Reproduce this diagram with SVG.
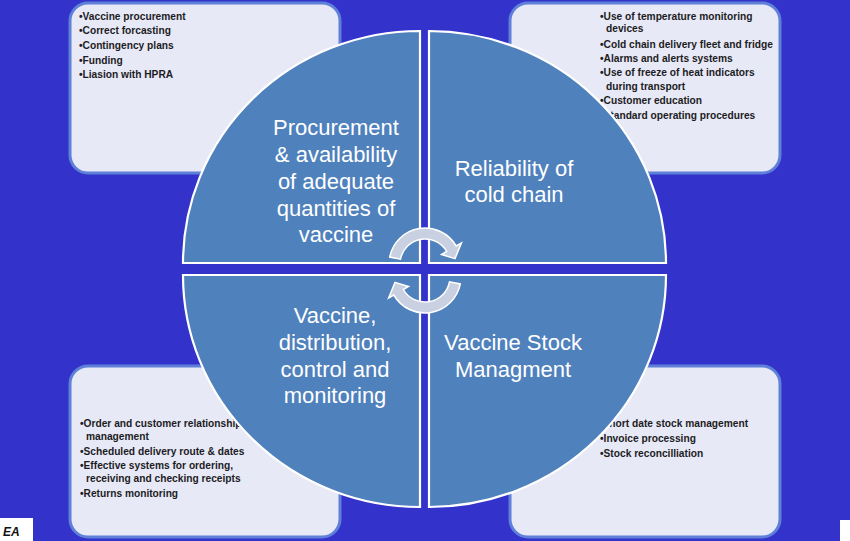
<svg xmlns="http://www.w3.org/2000/svg" width="850" height="541" viewBox="0 0 850 541">
<style>
.box{fill:#e8e9f6;stroke:#5f80d8;stroke-width:3}
.bt{font-family:"Liberation Sans",Arial,sans-serif;font-weight:bold;font-size:10.2px;fill:#1c1c24}
.q{fill:#4f81bd;stroke:#ffffff;stroke-width:2.2}
.lab{font-family:"Liberation Sans",Arial,sans-serif;font-size:22px;fill:#ffffff;text-anchor:middle}
.arr{fill:#c8d0e2;stroke:#ffffff;stroke-width:1.5}
</style>
<rect width="850" height="541" fill="#3333cc"/>
<g id="box-tl">
<rect class="box" x="70" y="3" width="270" height="170" rx="18"/>
<text class="bt" x="79" y="20">•Vaccine procurement</text>
<text class="bt" x="79" y="34">•Correct forcasting</text>
<text class="bt" x="79" y="49">•Contingency plans</text>
<text class="bt" x="79" y="64">•Funding</text>
<text class="bt" x="79" y="78">•Liasion with HPRA</text>
</g>
<g id="box-tr">
<rect class="box" x="510" y="3" width="270" height="170" rx="18"/>
<text class="bt" x="600" y="20">•Use of temperature monitoring</text>
<text class="bt" x="606" y="32">devices</text>
<text class="bt" x="600" y="48">•Cold chain delivery fleet and fridge</text>
<text class="bt" x="600" y="62">•Alarms and alerts systems</text>
<text class="bt" x="600" y="76">•Use of freeze of heat indicators</text>
<text class="bt" x="606" y="90">during transport</text>
<text class="bt" x="600" y="104">•Customer education</text>
<text class="bt" x="600" y="119">•Standard operating procedures</text>
</g>
<g id="box-bl">
<rect class="box" x="70" y="366" width="270" height="171" rx="18"/>
<text class="bt" x="80" y="427">•Order and customer relationship</text>
<text class="bt" x="86" y="440">management</text>
<text class="bt" x="80" y="455">•Scheduled delivery route &amp; dates</text>
<text class="bt" x="80" y="469">•Effective systems for ordering,</text>
<text class="bt" x="86" y="482">receiving and checking receipts</text>
<text class="bt" x="80" y="497">•Returns monitoring</text>
</g>
<g id="box-br">
<rect class="box" x="510" y="366" width="270" height="171" rx="18"/>
<text class="bt" x="599" y="427">•Short date stock management</text>
<text class="bt" x="600" y="442">•Invoice processing</text>
<text class="bt" x="600" y="457">•Stock reconcilliation</text>
</g>
<g id="q-tl">
<path class="q" d="M420,263 L183,263 A237,232 0 0 1 420,31 Z"/>
<text class="lab"><tspan x="336" y="135">Procurement</tspan><tspan x="336" y="162">&amp; availability</tspan><tspan x="336" y="189">of adequate</tspan><tspan x="336" y="216">quantities of</tspan><tspan x="336" y="242">vaccine</tspan></text>
</g>
<g id="q-tr">
<path class="q" d="M429,263 L429,31 A237,232 0 0 1 666,263 Z"/>
<text class="lab"><tspan x="514" y="176">Reliability of</tspan><tspan x="514" y="202">cold chain</tspan></text>
</g>
<g id="q-bl">
<path class="q" d="M420,275 L420,507 A237,232 0 0 1 183,275 Z"/>
<text class="lab"><tspan x="335" y="323">Vaccine,</tspan><tspan x="335" y="350">distribution,</tspan><tspan x="335" y="377">control and</tspan><tspan x="335" y="403">monitoring</tspan></text>
</g>
<g id="q-br">
<path class="q" d="M429,275 L666,275 A237,232 0 0 1 429,507 Z"/>
<text class="lab"><tspan x="513" y="350">Vaccine Stock</tspan><tspan x="513" y="377">Managment</tspan></text>
</g>
<g id="connectors">
<path class="arr" d="M389.7,257.1 A36,36 0 0 1 456.2,246 L461.4,243 L455,258.7 L441.5,254.5 L446.7,251.5 A25,25 0 0 0 400.5,259.2 Z"/>
<path class="arr" d="M460.3,283.9 A36,36 0 0 1 393.8,295 L388.6,298 L395,282.3 L408.5,286.5 L403.3,289.5 A25,25 0 0 0 449.5,281.8 Z"/>
</g>
<g id="corner-marks">
<rect x="0" y="518" width="33" height="23" fill="#ffffff"/>
<text x="3" y="536" font-family="Liberation Sans,Arial,sans-serif" font-weight="bold" font-style="italic" font-size="12" fill="#111111">EA</text>
<rect x="840" y="520" width="10" height="21" fill="#ffffff"/>
</g>
</svg>
